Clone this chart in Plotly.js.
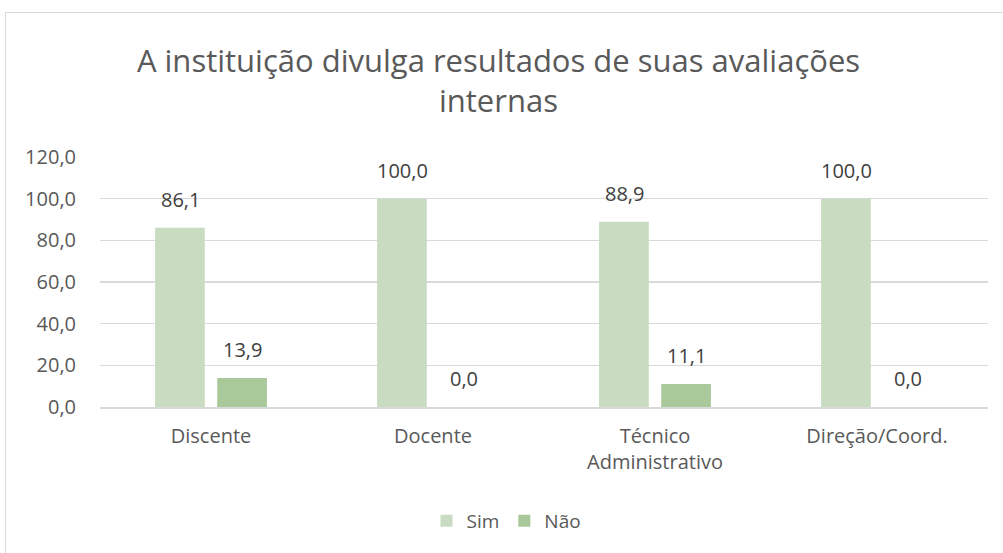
<!DOCTYPE html>
<html>
<head>
<meta charset="utf-8">
<script src="https://cdn.plot.ly/plotly-3.0.1.min.js"></script>
<style>
  html, body { margin: 0; padding: 0; background: #fff; }
  #wrap { position: relative; width: 1003px; height: 553px; overflow: hidden; }
  #frame { position: absolute; left: 5px; top: 12px; width: 1100px; height: 700px; border: 1.5px solid #d9d9d9; box-sizing: border-box; }
  #chart { position: absolute; left: 0; top: 0; width: 1003px; height: 553px; }
</style>
</head>
<body>
<div id="wrap">
  <div id="frame"></div>
  <div id="chart"></div>
</div>
<script>
const categories = ["Discente", "Docente", "Técnico<br>Administrativo", "Direção/Coord."];
const simValues = [86.1, 100.0, 88.9, 100.0];
const naoValues = [13.9, 0.0, 11.1, 0.0];
const yTicks = [0, 20, 40, 60, 80, 100, 120];
const yTickLabels = ["0,0", "20,0", "40,0", "60,0", "80,0", "100,0", "120,0"];

const FONT = "Open Sans, sans-serif";
const TXT = "#595959";
const LABEL = "#404040";

const traces = [
  {
    type: "bar", name: "Sim", x: categories, y: simValues,
    marker: { color: "#c9dcc1" }, hoverinfo: "none"
  },
  {
    type: "bar", name: "Não", x: categories, y: naoValues,
    marker: { color: "#a9c99a" }, hoverinfo: "none"
  }
];

function fmt(v) { return v.toFixed(1).replace(".", ","); }

const annotations = [];
[[simValues, -31], [naoValues, 31]].forEach(([vals, dx]) => {
  vals.forEach((v, i) => {
    annotations.push({
      x: categories[i], y: v, xref: "x", yref: "y",
      text: fmt(v), showarrow: false,
      xshift: dx, yshift: 13, yanchor: "bottom", xanchor: "center",
      font: { family: FONT, size: 20, color: LABEL }
    });
  });
});

const layout = {
  width: 1003, height: 553,
  paper_bgcolor: "rgba(0,0,0,0)", plot_bgcolor: "rgba(0,0,0,0)",
  separators: ",.",
  margin: { l: 100, r: 15, t: 157, b: 146 },
  font: { family: FONT, color: TXT },
  title: {
    text: "A instituição divulga resultados de suas avaliações<br>internas",
    font: { family: FONT, size: 31, color: TXT },
    x: 0.497, xanchor: "center", y: 0.87, yanchor: "top", yref: "container"
  },
  barmode: "group", bargap: 0.44, bargroupgap: 0.2,
  xaxis: {
    tickfont: { family: FONT, size: 20, color: TXT },
    showline: true, linecolor: "#d9d9d9", linewidth: 1.5,
    ticks: "", showgrid: false, ticklabelstandoff: 10
  },
  yaxis: {
    range: [0, 120], tickvals: yTicks, ticktext: yTickLabels,
    tickfont: { family: FONT, size: 20, color: TXT },
    gridcolor: "#d9d9d9", gridwidth: 1.5, zeroline: false,
    showline: false, ticks: "", ticklabelstandoff: 23
  },
  annotations: annotations,
  showlegend: true,
  legend: {
    orientation: "h", x: 0.505, xanchor: "center", xref: "container",
    y: 0.058, yanchor: "middle", yref: "container",
    font: { family: FONT, size: 19, color: TXT },
    itemwidth: 30, tracegroupgap: 0
  }
};

Plotly.newPlot("chart", traces, layout, { staticPlot: true, displayModeBar: false });
</script>
</body>
</html>
